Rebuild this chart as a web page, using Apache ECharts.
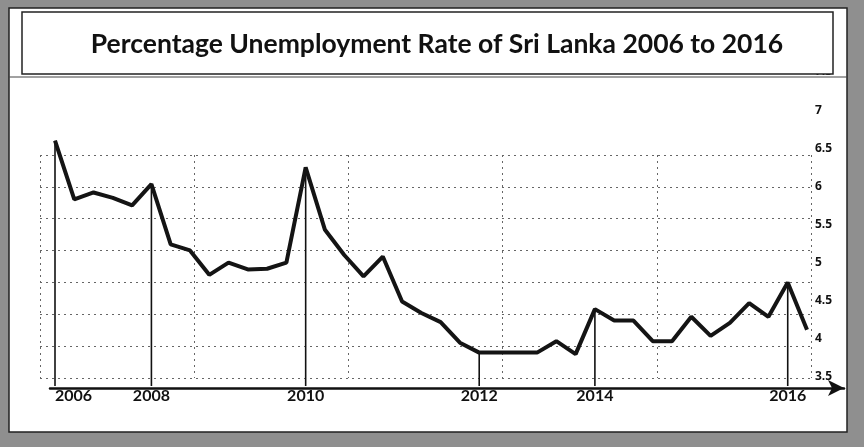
<!DOCTYPE html>
<html>
<head>
<meta charset="utf-8">
<script src="https://cdn.jsdelivr.net/npm/echarts@6/dist/echarts.min.js"></script>
<style>html,body{margin:0;padding:0;background:#8f8f8f}#c{width:864px;height:447px}</style>
</head>
<body>
<div id="c"></div>
<script>
const periods = ['1','2','3','4','5','6','7','8','9','10','11','12','13','14','15','16','17','18','19','20',
                 '21','22','23','24','25','26','27','28','29','30','31','32','33','34','35','36','37','38','39','40'];
const unemployment = [6.6, 5.83, 5.92, 5.85, 5.75, 6.03, 5.24, 5.16, 4.84, 5.0,
                      4.91, 4.92, 5.0, 6.25, 5.43, 5.1, 4.82, 5.08, 4.49, 4.34,
                      4.22, 3.95, 3.82, 3.82, 3.82, 3.82, 3.97, 3.8, 4.39, 4.24,
                      4.24, 3.97, 3.97, 4.29, 4.04, 4.21, 4.47, 4.29, 4.74, 4.12];
// Year labels and the observations they are attached to (with drop lines)
const yearLabelIndex = [0, 5, 13, 22, 28, 38];
const yearLabels = ['2006', '2008', '2010', '2012', '2014', '2016'];
const yTicks = { min: 3.5, max: 7.5, step: 0.5 };
const title = 'Percentage Unemployment Rate of Sri Lanka 2006 to 2016';

const labelMap = {};
yearLabelIndex.forEach((idx, k) => { labelMap[idx] = yearLabels[k]; });
const dropData = yearLabelIndex.map(idx => [idx, unemployment[idx]]);

const chart = echarts.init(document.getElementById('c'), null, { renderer: 'canvas' });
chart.setOption({
  backgroundColor: '#8f8f8f',
  animation: false,
  graphic: [
    { type: 'rect', z: -10, shape: { x: 9, y: 8, width: 838, height: 424 },
      style: { fill: '#ffffff', stroke: '#222', lineWidth: 1.5 } },
    { type: 'line', z: -9, shape: { x1: 9, y1: 77, x2: 847, y2: 77 },
      style: { stroke: '#444', lineWidth: 1.2 } },
    { type: 'rect', z: 5, shape: { x: 22, y: 12, width: 811, height: 62 },
      style: { fill: '#ffffff', stroke: '#222', lineWidth: 1.5 } },
    { type: 'text', z: 6, x: 437, y: 44,
      style: { text: title, font: 'bold 26.5px Lato', fill: '#111', align: 'center', verticalAlign: 'middle' } }
  ],
  grid: [
    { left: 55, right: 57, top: 72, bottom: 70 },
    { left: 40, right: 53, top: 155, bottom: 69 },
    { left: 50, right: 20, top: 300, bottom: 59 }
  ],
  xAxis: [
    { type: 'category', gridIndex: 0, data: periods, boundaryGap: false,
      axisLine: { show: false }, axisTick: { show: false }, splitLine: { show: false },
      axisLabel: {
        margin: 11, interval: 0, alignMinLabel: 'left',
        formatter: (v, i) => labelMap[i] || '',
        color: '#111', fontFamily: 'Lato', fontWeight: 'bold', fontSize: 16
      } },
    { type: 'value', gridIndex: 1, min: 0, max: 5, interval: 1,
      axisLine: { show: false }, axisTick: { show: false }, axisLabel: { show: false },
      splitLine: { show: true, lineStyle: { color: '#666', type: [2, 4], width: 1 } } },
    { type: 'value', gridIndex: 2, min: 0, max: 1,
      axisTick: { show: false }, axisLabel: { show: false }, splitLine: { show: false },
      axisLine: { show: true, symbol: ['none', 'arrow'], symbolSize: [12, 16],
                  lineStyle: { color: '#111', width: 2.5 } } }
  ],
  yAxis: [
    { type: 'value', gridIndex: 0, position: 'right', min: yTicks.min, max: yTicks.max, interval: yTicks.step,
      axisLine: { show: false }, axisTick: { show: false }, splitLine: { show: false },
      axisLabel: { margin: 8, color: '#111', fontFamily: 'Open Sans', fontWeight: 'bold', fontSize: 12 } },
    { type: 'value', gridIndex: 1, min: 0, max: 7, interval: 1,
      axisLine: { show: false }, axisTick: { show: false }, axisLabel: { show: false },
      splitLine: { show: true, lineStyle: { color: '#666', type: [2, 4], width: 1 } } },
    { type: 'value', gridIndex: 2, min: 0, max: 1, show: false }
  ],
  series: [
    { type: 'custom', xAxisIndex: 0, yAxisIndex: 0, data: dropData, clip: false, silent: true,
      renderItem: (params, api) => {
        const top = api.coord([api.value(0), api.value(1)]);
        const base = api.coord([api.value(0), yTicks.min]);
        return { type: 'line', shape: { x1: top[0], y1: top[1], x2: base[0], y2: base[1] + 9 },
                 style: { stroke: '#111', lineWidth: 1.6 } };
      } },
    { type: 'line', xAxisIndex: 0, yAxisIndex: 0, data: unemployment, clip: false,
      showSymbol: false, symbol: 'none', z: 3,
      lineStyle: { color: '#141414', width: 4 } }
  ]
});
</script>
</body>
</html>
